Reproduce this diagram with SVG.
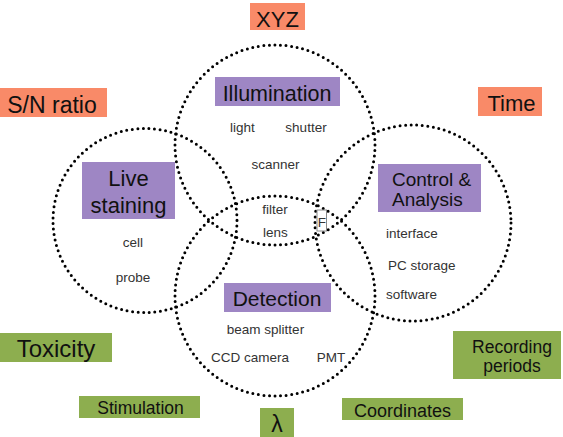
<svg xmlns="http://www.w3.org/2000/svg" width="563" height="437" viewBox="0 0 563 437">
<style>
text{font-family:"Liberation Sans",Arial,sans-serif;}
.c{fill:none;stroke:#000;stroke-width:3;stroke-linecap:round;stroke-dasharray:0 5.6;}
.o{fill:#F98A68;}
.p{fill:#9E86C4;}
.g{fill:#8DAE4F;}
.big{fill:#111;text-anchor:middle;}
.sm{fill:#333;font-size:13.5px;}
.m{text-anchor:middle;}
</style>
<rect width="563" height="437" fill="#fff"/>
<g id="circles">
<circle class="c" cx="275" cy="145" r="100"/>
<circle class="c" cx="275" cy="296" r="100"/>
<circle class="c" cx="145" cy="220.5" r="92"/>
<circle class="c" cx="413" cy="223" r="98"/>
</g>
<g id="xyz"><rect class="o" x="250" y="3" width="55" height="27"/><text class="big" x="277.5" y="27" font-size="22">XYZ</text></g>
<g id="sn"><rect class="o" x="0" y="88" width="107" height="29"/><text class="big" x="52" y="113" font-size="23">S/N ratio</text></g>
<g id="time"><rect class="o" x="478" y="87" width="64" height="29"/><text class="big" x="511.5" y="111" font-size="22">Time</text></g>
<g id="illumination"><rect class="p" x="215" y="77" width="125" height="29"/><text class="big" x="277" y="101" font-size="21.5">Illumination</text>
<text class="sm m" x="242.5" y="132">light</text><text class="sm m" x="306" y="132">shutter</text><text class="sm m" x="275.5" y="169">scanner</text></g>
<g id="live"><rect class="p" x="82" y="162" width="93" height="57"/><text class="big" x="128.5" y="186" font-size="22">Live</text><text class="big" x="128.5" y="213" font-size="22">staining</text>
<text class="sm m" x="133" y="247">cell</text><text class="sm m" x="133" y="282">probe</text></g>
<g id="center"><text class="sm m" x="275" y="214">filter</text><text class="sm m" x="275.5" y="237">lens</text></g>
<g id="f"><rect x="317" y="210" width="9.5" height="21" fill="#fff" stroke="#888" stroke-width="1"/><text class="sm m" x="321.8" y="227" font-size="13">F</text></g>
<g id="control"><rect class="p" x="378" y="164" width="103" height="48"/><text x="392" y="186" font-size="19" fill="#111">Control &amp;</text><text x="392" y="205.5" font-size="19" fill="#111">Analysis</text>
<text class="sm" x="386" y="238">interface</text><text class="sm" x="388" y="270">PC storage</text><text class="sm" x="386" y="299">software</text></g>
<g id="detection"><rect class="p" x="224" y="283" width="107" height="29"/><text class="big" x="277" y="306" font-size="21">Detection</text>
<text class="sm m" x="265.5" y="334">beam splitter</text><text class="sm m" x="250" y="362">CCD camera</text><text class="sm m" x="331" y="362">PMT</text></g>
<g id="toxicity"><rect class="g" x="0" y="333" width="112" height="29"/><text class="big" x="56" y="357" font-size="24">Toxicity</text></g>
<g id="stimulation"><rect class="g" x="79" y="396" width="121" height="22"/><text class="big" x="140.5" y="414" font-size="17.5">Stimulation</text></g>
<g id="lambda"><rect class="g" x="260" y="408" width="34" height="29"/><text class="big" x="277" y="432" font-size="23">λ</text></g>
<g id="coordinates"><rect class="g" x="342" y="398" width="121" height="22"/><text class="big" x="402.5" y="417" font-size="18">Coordinates</text></g>
<g id="recording"><rect class="g" x="453" y="331" width="108" height="48"/><text class="big" x="512" y="353" font-size="17.5">Recording</text><text class="big" x="512" y="372" font-size="17.5">periods</text></g>
<g id="connectors"/>
</svg>
